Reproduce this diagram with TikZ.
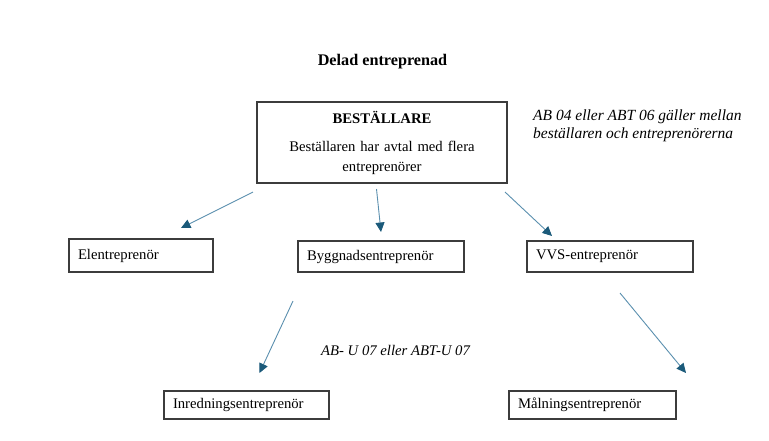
\documentclass[tikz,border=0pt]{standalone}
\usepackage{fontspec}
\setmainfont{Liberation Serif}
\usetikzlibrary{arrows.meta}
\definecolor{pil}{HTML}{5A8FAE}
\definecolor{pilspets}{HTML}{1B5A7A}
\definecolor{ram}{HTML}{3C3C3C}
\tikzset{
  ent/.style={draw=ram, line width=1.4pt, inner xsep=9pt, inner ysep=0pt,
    align=left, font=\fontsize{14.7}{18}\selectfont},
  notis/.style={inner sep=0pt, align=left, font=\fontsize{14.7}{17.5}\selectfont\itshape},
  pilen/.style={draw=pil, line width=0.9pt,
    -{Triangle[length=9.5pt,width=9pt,fill=pilspets,color=pilspets]}}
}
\begin{document}
\begin{tikzpicture}[x=1pt,y=-1pt]
      \useasboundingbox (0,0) rectangle (769,440);
      \node[font=\fontsize{16.2}{18}\selectfont\bfseries] (titel) at (382.5,62) {Delad entreprenad};
      \node[ent, align=center, text width=232pt, minimum height=81pt,
        font=\fontsize{14.7}{20}\selectfont] (best) at (382,142.5)
        {{\bfseries BESTÄLLARE}\\[8pt]Beställaren har avtal med flera\\entreprenörer\\[1pt]};
      \node[notis, anchor=base west, font=\fontsize{15.5}{18}\selectfont\itshape] (avtal) at (533,138)
        {AB 04 eller ABT 06 gäller mellan\\beställaren och entreprenörerna};
      \node[ent, text width=126pt, minimum height=33pt] (el) at (141,255.5) {Elentreprenör};
      \node[ent, text width=148pt, minimum height=31pt] (bygg) at (381,256.5) {Byggnadsentreprenör};
      \node[ent, text width=148pt, minimum height=31pt] (vvs) at (610,256.5) {VVS-entreprenör};
      \node[ent, text width=147pt, minimum height=28pt] (inred) at (246.5,405) {Inredningsentreprenör};
      \node[ent, text width=149pt, minimum height=28pt] (maln) at (592.5,405) {Målningsentreprenör};
      \node[notis, anchor=base west] (underavtal) at (321,355) {AB- U 07 eller ABT-U 07};
      \coordinate (best-el) at (253,192);
      \coordinate (el-in) at (181,228);
      \coordinate (best-bygg) at (376.5,189);
      \coordinate (bygg-in) at (381,232);
      \coordinate (best-vvs) at (505,192);
      \coordinate (vvs-in) at (552,236);
      \coordinate (bygg-ut) at (293,301);
      \coordinate (inred-in) at (259.5,373);
      \coordinate (vvs-ut) at (620,293);
      \coordinate (maln-in) at (686,373);
      \begin{scope}[pilen]
        \draw (best-el) to (el-in);
        \draw (best-bygg) to (bygg-in);
        \draw (best-vvs) to (vvs-in);
        \draw (bygg-ut) to (inred-in);
        \draw (vvs-ut) to (maln-in);
      \end{scope}
\end{tikzpicture}
\end{document}
